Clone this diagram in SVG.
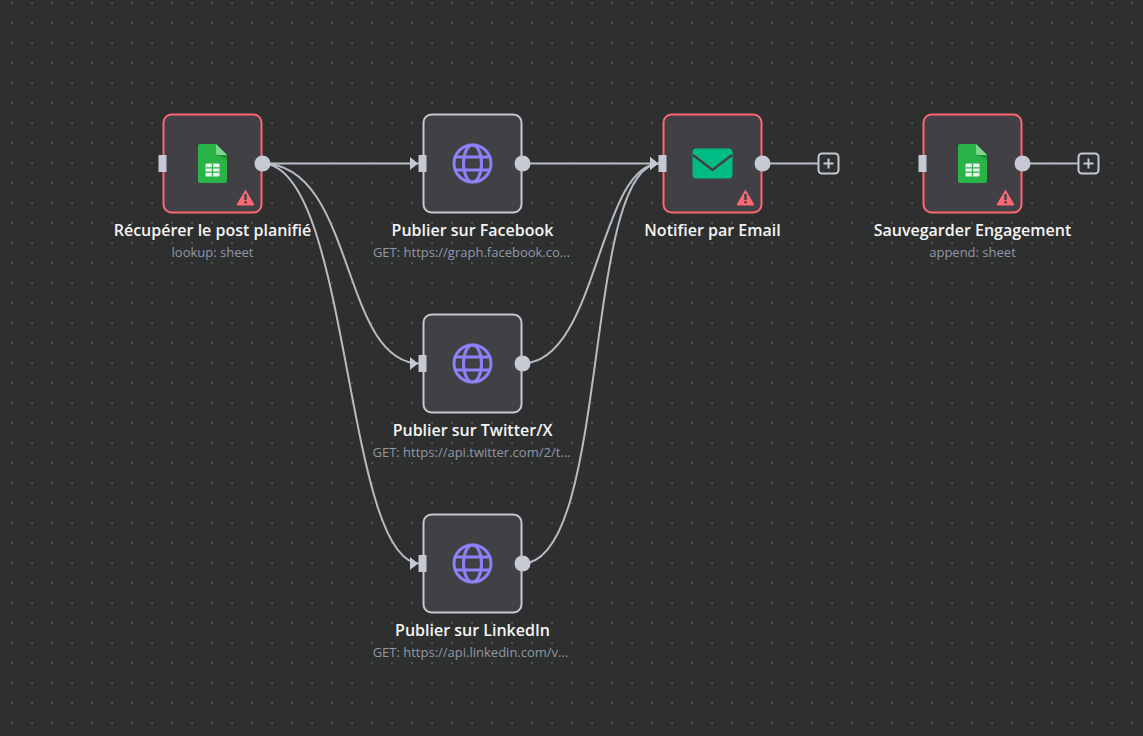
<svg xmlns="http://www.w3.org/2000/svg" width="1143" height="736" viewBox="0 0 1143 736">
<style>
.box{fill:#414145;stroke-width:2}
.warn{stroke:#ff6674}.ok{stroke:#c6c9d4}
.title{font-family:"Open Sans",sans-serif;font-size:16px;font-weight:600;fill:#f5f5f5;text-anchor:middle}
.sub{font-family:"Open Sans",sans-serif;font-size:13px;fill:#8f98a8;text-anchor:middle}
.edge{fill:none;stroke:#b8bbc7;stroke-width:2}
.port{fill:#c6c9d4}
</style>
<defs>
<pattern id="dots" x="0" y="0" width="20" height="20" patternUnits="userSpaceOnUse">
<rect x="11" y="2" width="2" height="2" fill="#4e4f51"/>
</pattern>
<marker id="arrow" markerWidth="12" markerHeight="14" refX="12" refY="6.500" orient="0" markerUnits="userSpaceOnUse"><path d="M2 0L10 6.500L2 13Z" fill="#c6c9d4"/></marker>
<g id="sheet"><path d="M-14.500 -17.500a2 2 0 0 1 2-2H3.500L14.500 -8.500V17.500a2 2 0 0 1-2 2H-12.500a2 2 0 0 1-2-2Z" fill="#28b446"/><path d="M3.500 -19.500L14.500 -8.500H5.500a2 2 0 0 1-2-2Z" fill="#7fd68f"/><path d="M3.500 -8.500H14.500V-4Z" fill="#1f9438"/><rect x="-7" y="0" width="14" height="13" rx="1" fill="#f1f1f1"/><path d="M-7 4.300H7M-7 8.700H7M0 0V13" stroke="#28b446" stroke-width="1.300"/></g>
<g id="globe" fill="none" stroke="#8c82f8" stroke-width="3"><circle r="18.500"/><ellipse rx="9" ry="18.500"/><path d="M-17 -6.500H17M-17 6.500H17"/></g>
<g id="alert"><path d="M0 -8L8.500 6.500a1 1 0 0 1-1 1.500H-7.500A1 1 0 0 1-8.500 6.500Z" fill="#ff6674"/><rect x="-1.200" y="-3.500" width="2.400" height="6" fill="#414145"/><rect x="-1.200" y="3.500" width="2.400" height="2.400" fill="#414145"/></g>
<g id="plus"><rect x="-10" y="-10" width="20" height="20" rx="3.500" fill="#2f3030" stroke="#c6c9d4" stroke-width="2"/><path d="M-5 0H5M0 -5V5" stroke="#c6c9d4" stroke-width="2"/></g>
</defs>
<rect width="1143" height="736" fill="#2e2f2f"/>
<rect width="1143" height="736" fill="url(#dots)"/>
<g id="connectors">
<path class="edge" marker-end="url(#arrow)" d="M262 163.500H420"/>
<path class="edge" marker-end="url(#arrow)" d="M262 163.500C356 163.500 340 363.500 420 363.500"/>
<path class="edge" marker-end="url(#arrow)" d="M262 163.500C351 163.500 344 563.500 420 563.500"/>
<path class="edge" marker-end="url(#arrow)" d="M522 163.500H660"/>
<path class="edge" marker-end="url(#arrow)" d="M522 363.500C598 363.500 598 163.500 660 163.500"/>
<path class="edge" marker-end="url(#arrow)" d="M522 563.500C611 563.500 582 163.500 660 163.500"/>
<path class="edge" d="M762 163.500H818"/>
<path class="edge" d="M1022 163.500H1078"/>
</g>
<g id="node-recuperer">
<rect class="box warn" x="163.500" y="114.500" width="98" height="98" rx="8"/>
<rect class="port" x="158.500" y="155" width="8" height="17"/><circle class="port" cx="262.500" cy="163.500" r="8"/>
<use href="#sheet" x="212.500" y="163.500"/><use href="#alert" x="245.500" y="197.500"/>
<text class="title" x="212.500" y="236">Récupérer le post planifié</text><text class="sub" x="212.500" y="257">lookup: sheet</text>
</g>
<g id="node-facebook">
<rect class="box ok" x="423.500" y="114.500" width="98" height="98" rx="8"/>
<rect class="port" x="418.500" y="155" width="8" height="17"/><circle class="port" cx="522.500" cy="163.500" r="8"/>
<use href="#globe" x="472.500" y="163.500"/>
<text class="title" x="472.500" y="236">Publier sur Facebook</text><text class="sub" x="471.500" y="257">GET: https://graph.facebook.co...</text>
</g>
<g id="node-twitter">
<rect class="box ok" x="423.500" y="314.500" width="98" height="98" rx="8"/>
<rect class="port" x="418.500" y="355" width="8" height="17"/><circle class="port" cx="522.500" cy="363.500" r="8"/>
<use href="#globe" x="472.500" y="363.500"/>
<text class="title" x="472.500" y="436">Publier sur Twitter/X</text><text class="sub" x="471.500" y="457">GET: https://api.twitter.com/2/t...</text>
</g>
<g id="node-linkedin">
<rect class="box ok" x="423.500" y="514.500" width="98" height="98" rx="8"/>
<rect class="port" x="418.500" y="555" width="8" height="17"/><circle class="port" cx="522.500" cy="563.500" r="8"/>
<use href="#globe" x="472.500" y="563.500"/>
<text class="title" x="472.500" y="636">Publier sur LinkedIn</text><text class="sub" x="470.500" y="657">GET: https://api.linkedin.com/v...</text>
</g>
<g id="node-email">
<rect class="box warn" x="663.500" y="114.500" width="98" height="98" rx="8"/>
<rect class="port" x="658.500" y="155" width="8" height="17"/><circle class="port" cx="762.500" cy="163.500" r="8"/>
<rect x="692.500" y="148.500" width="40" height="30" rx="4" fill="#00bb83"/><path d="M693 155L712.500 170L732 155" fill="none" stroke="#414145" stroke-width="2.500"/>
<use href="#alert" x="745.500" y="197.500"/>
<text class="title" x="712.500" y="236">Notifier par Email</text>
</g>
<g id="node-sauvegarder">
<rect class="box warn" x="923.500" y="114.500" width="98" height="98" rx="8"/>
<rect class="port" x="918.500" y="155" width="8" height="17"/><circle class="port" cx="1022.500" cy="163.500" r="8"/>
<use href="#sheet" x="972.500" y="163.500"/><use href="#alert" x="1005.500" y="197.500"/>
<text class="title" x="972.500" y="236">Sauvegarder Engagement</text><text class="sub" x="972.500" y="257">append: sheet</text>
</g>
<use id="plus-email" href="#plus" x="828.500" y="163.500"/>
<use id="plus-sauvegarder" href="#plus" x="1088.500" y="163.500"/>
</svg>
